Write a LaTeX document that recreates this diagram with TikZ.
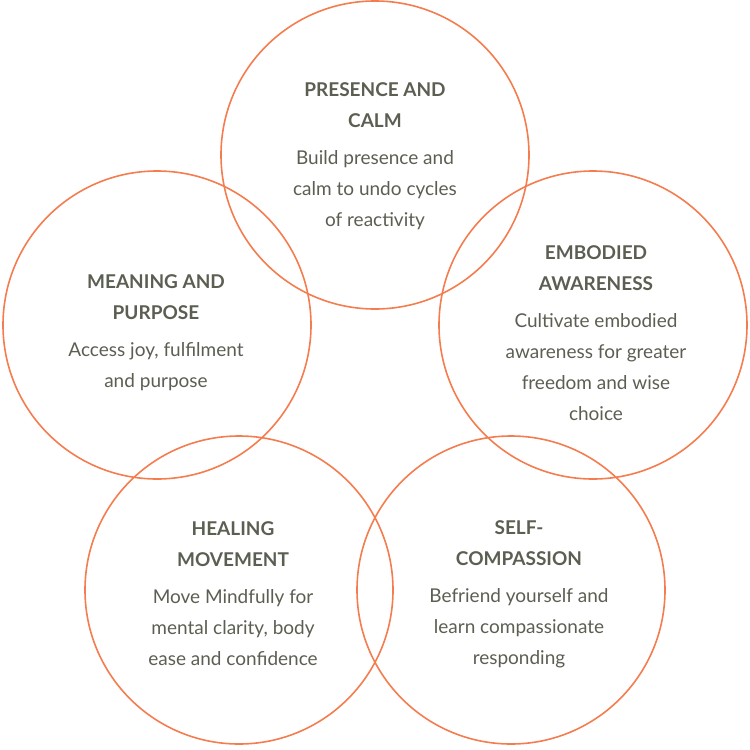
\documentclass[tikz,border=0pt]{standalone}
\usepackage{fontspec}
\setmainfont{Lato}
\definecolor{ring}{HTML}{F47C4E}
\definecolor{txt}{HTML}{5A5F52}
\begin{document}
\begin{tikzpicture}[x=1pt,y=-1pt,
  ring/.style={draw=ring,line width=1.6pt},
  lbl/.style={text=txt,align=center,font=\fontsize{19}{31}\selectfont,inner sep=0pt}]
\useasboundingbox (0,0) rectangle (750,750);
\draw[ring] (375,155) circle (154) coordinate (c1);
\draw[ring] (593,325) circle (154);
\draw[ring] (157,325) circle (154);
\draw[ring] (239,590) circle (154);
\draw[ring] (511,590) circle (154);
\node[lbl] (t1) at (375,156) {\textbf{PRESENCE AND}\\\textbf{CALM}\\[6pt]Build presence and\\calm to undo cycles\\of reactivity};
\node[lbl] (t2) at (596,333) {\textbf{EMBODIED}\\\textbf{AWARENESS}\\[6pt]Cultivate embodied\\awareness for greater\\freedom and wise\\choice};
\node[lbl] (t3) at (156,333) {\textbf{MEANING AND}\\\textbf{PURPOSE}\\[6pt]Access joy, fulfilment\\and purpose};
\node[lbl] (t4) at (233,594) {\textbf{HEALING}\\\textbf{MOVEMENT}\\[6pt]Move Mindfully for\\mental clarity, body\\ease and confidence};
\node[lbl] (t5) at (519,594) {\textbf{SELF-}\\\textbf{COMPASSION}\\[6pt]Befriend yourself and\\learn compassionate\\responding};
\end{tikzpicture}
\end{document}
